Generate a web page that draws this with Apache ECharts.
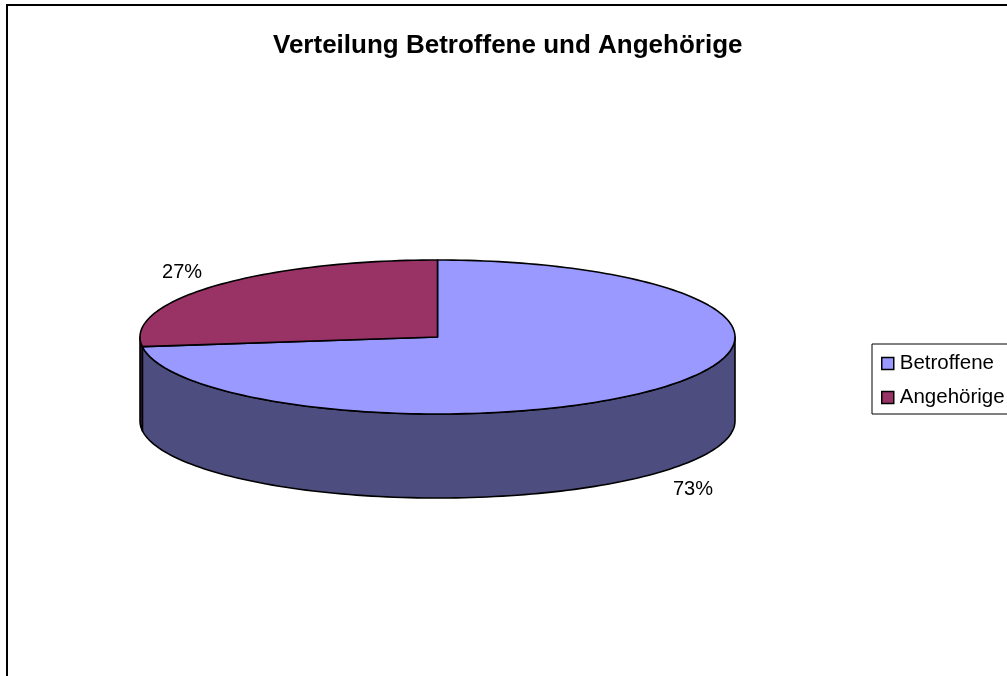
<!DOCTYPE html>
<html>
<head>
<meta charset="utf-8">
<style>
  html, body { margin: 0; padding: 0; background: #fff; }
  #chart { width: 1007px; height: 676px; }
</style>
<script src="https://cdn.jsdelivr.net/npm/echarts@6/dist/echarts.min.js"></script>
</head>
<body>
<div id="chart"></div>
<script>
const categories = ['Betroffene', 'Angehörige'];
const values = [73, 27];
const topColors = ['#9999FF', '#993366'];
const sideColors = ['#4D4D80', '#4D1A33'];

// ellipse layout of the 3d pie
const cx = 437.5, cy = 337, rx = 297.5, ry = 77, depth = 84;
const total = values.reduce((a, b) => a + b, 0);
const rad = d => d * Math.PI / 180;

function arcPoints(a0, a1, dy) {
    const pts = [];
    const n = Math.max(2, Math.ceil(Math.abs(a1 - a0) / 1.5));
    for (let k = 0; k <= n; k++) {
        const a = rad(a0 + (a1 - a0) * k / n);
        pts.push([cx + rx * Math.cos(a), cy + dy + ry * Math.sin(a)]);
    }
    return pts;
}

function makeRenderer(i) {
    return function (params, api) {
        const v = api.value(0);
        const before = values.slice(0, i).reduce((a, b) => a + b, 0);
        // start at 12 o'clock, clockwise
        const a0 = -90 + before / total * 360;
        const a1 = a0 + v / total * 360;
        const children = [];

        // visible front side: angles between 0 and 180
        const s = Math.max(a0, 0), e = Math.min(a1, 180);
        if (e > s) {
            const top = arcPoints(s, e, 0);
            const bottom = arcPoints(e, s, depth);
            children.push({
                type: 'polygon',
                z2: 1,
                shape: { points: top.concat(bottom) },
                style: { fill: sideColors[i], stroke: '#000', lineWidth: 1.6, lineJoin: 'round' }
            });
        }

        children.push({
            type: 'polygon',
            z2: 10,
            shape: { points: [[cx, cy]].concat(arcPoints(a0, a1, 0)) },
            style: { fill: topColors[i], stroke: '#000', lineWidth: 1.6, lineJoin: 'round' }
        });

        const mid = rad((a0 + a1) / 2);
        const lx = cx + (rx + 43) * Math.cos(mid);
        let ly = cy + (ry + 20) * Math.sin(mid);
        if (Math.sin(mid) > 0) ly += depth + 4;
        children.push({
            type: 'text',
            z2: 20,
            x: lx,
            y: ly,
            style: {
                text: Math.round(v / total * 100) + '%',
                fill: '#000',
                font: '20px "Liberation Sans", Arial, sans-serif',
                align: 'center',
                verticalAlign: 'middle'
            }
        });
        return { type: 'group', children: children };
    };
}

const chart = echarts.init(document.getElementById('chart'), null, { renderer: 'canvas' });

chart.setOption({
    backgroundColor: '#fff',
    animation: false,
    title: {
        text: 'Verteilung Betroffene und Angehörige',
        left: 273,
        top: 33,
        padding: 0,
        textStyle: {
            fontFamily: 'Liberation Sans',
            fontWeight: 'bold',
            fontSize: 26,
            color: '#000'
        }
    },
    legend: {
        orient: 'vertical',
        left: 872,
        top: 344,
        icon: 'rect',
        itemWidth: 12,
        itemHeight: 12,
        itemGap: 13,
        padding: [9, 12, 6, 9],
        borderColor: '#000',
        borderWidth: 1,
        itemStyle: { borderColor: '#000', borderWidth: 1.5 },
        textStyle: { fontFamily: 'Liberation Sans', fontSize: 20.5, color: '#000', padding: [0, 0, 0, 1] },
        data: categories
    },
    graphic: [{
        type: 'rect',
        shape: { x: 7, y: 5, width: 1030, height: 700 },
        style: { fill: 'none', stroke: '#000', lineWidth: 2 },
        silent: true
    }],
    series: categories.map((name, i) => ({
        type: 'custom',
        name: name,
        coordinateSystem: 'none',
        itemStyle: { color: topColors[i] },
        data: [[values[i]]],
        renderItem: makeRenderer(i)
    }))
});
</script>
</body>
</html>
